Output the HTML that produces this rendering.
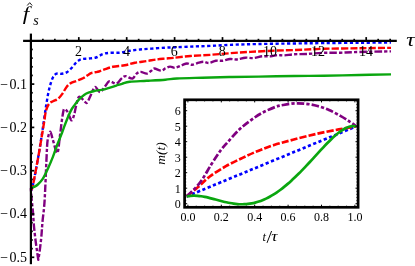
<!DOCTYPE html>
<html><head><meta charset="utf-8"><title>plot</title>
<style>html,body{margin:0;padding:0;background:#fff;}body{width:415px;height:266px;overflow:hidden;position:relative;font-family:"Liberation Serif",serif;}</style></head>
<body>
<svg width="415" height="266" viewBox="0 0 415 266" style="position:absolute;left:0;top:0;will-change:transform">
<rect width="415" height="266" fill="#fff"/>
<g fill="none" stroke-width="2.40" stroke-linejoin="round" >
<path d="M30.90 188.10 C31.15 187.98 31.17 192.65 32.40 187.40 C33.63 182.15 36.70 165.58 38.30 156.60 C39.90 147.62 40.98 140.07 42.00 133.50 C43.02 126.93 43.70 121.90 44.40 117.20 C45.10 112.50 45.57 109.25 46.20 105.30 C46.83 101.35 47.52 96.92 48.20 93.50 C48.88 90.08 49.48 87.53 50.30 84.80 C51.12 82.07 52.05 78.95 53.10 77.10 C54.15 75.25 55.20 74.25 56.60 73.70 C58.00 73.15 59.83 74.02 61.50 73.80 C63.17 73.58 64.90 73.38 66.60 72.40 C68.30 71.42 70.02 69.63 71.70 67.90 C73.38 66.17 75.02 63.47 76.70 62.00 C78.38 60.53 79.82 59.67 81.80 59.10 C83.78 58.53 86.23 58.87 88.60 58.60 C90.97 58.33 93.63 58.25 96.00 57.50 C98.37 56.75 100.55 54.88 102.80 54.10 C105.05 53.32 106.68 53.03 109.50 52.80 C112.32 52.57 116.32 53.03 119.70 52.70 C123.08 52.37 126.42 51.33 129.80 50.80 C133.18 50.27 136.33 49.87 140.00 49.50 C143.67 49.13 147.58 48.91 151.80 48.60 C156.02 48.29 161.12 47.90 165.30 47.67 C169.48 47.43 172.15 47.39 176.90 47.20 C181.65 47.00 188.17 46.71 193.80 46.50 C199.43 46.28 204.78 46.16 210.70 45.90 C216.62 45.63 221.28 45.20 229.30 44.88 C237.32 44.57 247.97 44.25 258.80 44.01 C269.63 43.77 283.47 43.60 294.30 43.45 C305.13 43.30 312.97 43.22 323.80 43.10 C334.63 42.99 348.10 42.84 359.30 42.75 C370.50 42.66 385.72 42.58 391.00 42.55" stroke="#0000ff" stroke-dasharray="3.2 2.5" stroke-dashoffset="0"/>
<path d="M30.90 188.30 C31.15 188.18 31.17 192.85 32.40 187.60 C33.63 182.35 36.67 165.78 38.30 156.80 C39.93 147.82 41.20 139.65 42.20 133.70 C43.20 127.75 43.67 124.95 44.30 121.10 C44.93 117.25 45.22 113.48 46.00 110.60 C46.78 107.72 47.83 105.35 49.00 103.80 C50.17 102.25 51.48 102.13 53.00 101.30 C54.52 100.47 56.53 100.07 58.10 98.80 C59.67 97.53 60.98 95.68 62.40 93.70 C63.82 91.72 65.20 88.67 66.60 86.90 C68.00 85.13 69.12 84.12 70.80 83.10 C72.48 82.08 74.58 81.65 76.70 80.80 C78.82 79.95 81.67 78.93 83.50 78.00 C85.33 77.07 86.45 76.02 87.70 75.20 C88.95 74.38 89.78 73.58 91.00 73.10 C92.22 72.62 93.67 72.57 95.00 72.30 C96.33 72.03 97.42 71.98 99.00 71.50 C100.58 71.02 102.18 70.18 104.50 69.40 C106.82 68.62 109.53 67.48 112.90 66.80 C116.27 66.12 121.03 65.97 124.70 65.30 C128.37 64.63 131.23 63.50 134.90 62.80 C138.57 62.10 143.03 61.67 146.70 61.10 C150.37 60.53 153.80 59.82 156.90 59.40 C160.00 58.98 162.53 58.83 165.30 58.57 C168.07 58.30 169.32 58.24 173.50 57.82 C177.68 57.39 184.20 56.52 190.40 56.02 C196.60 55.51 204.22 55.25 210.70 54.80 C217.18 54.34 222.68 53.77 229.30 53.28 C235.92 52.79 242.67 52.31 250.40 51.86 C258.13 51.41 268.38 50.88 275.70 50.58 C283.02 50.27 286.28 50.34 294.30 50.05 C302.32 49.75 312.97 49.10 323.80 48.80 C334.63 48.50 348.10 48.41 359.30 48.25 C370.50 48.09 385.72 47.92 391.00 47.85" stroke="#ff0000" stroke-dasharray="7.1 2.1" stroke-dashoffset="0"/>
<path d="M30.90 188.10 C30.97 189.35 31.10 193.05 31.30 195.60 C31.50 198.15 31.82 200.57 32.10 203.40 C32.38 206.23 32.68 208.73 33.00 212.60 C33.32 216.47 33.55 221.77 34.00 226.60 C34.45 231.43 35.18 237.43 35.70 241.60 C36.22 245.77 36.67 248.57 37.10 251.60 C37.53 254.63 38.10 258.43 38.30 259.80 C38.52 258.43 39.10 255.37 39.60 251.60 C40.10 247.83 40.82 242.20 41.30 237.20 C41.78 232.20 41.95 227.70 42.50 221.60 C43.05 215.50 43.92 211.43 44.60 200.60 C45.28 189.77 46.10 166.65 46.60 156.60 C47.10 146.55 47.00 144.43 47.60 140.30 C48.20 136.17 49.30 131.80 50.20 131.80 C51.10 131.80 51.82 136.77 53.00 140.30 C54.18 143.83 56.15 153.68 57.30 153.00 C58.45 152.32 59.17 141.45 59.90 136.20 C60.63 130.95 61.10 125.77 61.70 121.50 C62.30 117.23 63.00 112.65 63.50 110.60 C64.00 108.55 64.10 109.10 64.70 109.20 C65.30 109.30 66.30 109.97 67.10 111.20 C67.90 112.43 68.70 115.08 69.50 116.60 C70.30 118.12 71.10 120.70 71.90 120.30 C72.70 119.90 73.60 116.62 74.30 114.20 C75.00 111.78 75.33 108.68 76.10 105.80 C76.87 102.92 77.75 97.93 78.90 96.90 C80.05 95.87 81.70 98.60 83.00 99.60 C84.30 100.60 85.48 103.45 86.70 102.90 C87.92 102.35 88.98 98.92 90.30 96.30 C91.62 93.68 93.38 88.32 94.60 87.20 C95.82 86.08 96.63 88.80 97.60 89.60 C98.57 90.40 99.12 92.60 100.40 92.00 C101.68 91.40 103.78 87.80 105.30 86.00 C106.82 84.20 107.67 81.58 109.50 81.20 C111.33 80.82 114.32 84.13 116.30 83.70 C118.28 83.27 119.85 79.87 121.40 78.60 C122.95 77.33 123.77 76.10 125.60 76.10 C127.43 76.10 130.57 79.02 132.40 78.60 C134.23 78.18 135.20 74.72 136.60 73.60 C138.00 72.48 139.12 71.90 140.80 71.90 C142.48 71.90 145.00 73.75 146.70 73.60 C148.40 73.45 149.73 71.85 151.00 71.00 C152.27 70.15 152.62 68.55 154.30 68.50 C155.98 68.45 159.27 70.70 161.10 70.69 C162.93 70.69 163.80 69.14 165.30 68.47 C166.80 67.79 168.45 66.75 170.10 66.64 C171.75 66.53 173.22 68.05 175.20 67.81 C177.18 67.56 180.03 65.90 182.00 65.17 C183.97 64.44 185.32 63.50 187.00 63.44 C188.68 63.38 190.12 64.95 192.10 64.81 C194.08 64.66 196.92 63.08 198.90 62.57 C200.88 62.05 202.32 61.66 204.00 61.74 C205.68 61.81 207.03 63.17 209.00 63.01 C210.97 62.84 213.53 61.15 215.80 60.77 C218.07 60.38 220.23 61.02 222.60 60.72 C224.97 60.43 227.63 59.19 230.00 58.98 C232.37 58.77 234.25 59.65 236.80 59.44 C239.35 59.22 242.48 57.92 245.30 57.69 C248.12 57.45 250.88 58.27 253.70 58.04 C256.52 57.81 259.37 56.59 262.20 56.30 C265.03 56.00 268.17 56.49 270.70 56.28 C273.23 56.08 275.15 55.23 277.40 55.07 C279.65 54.92 281.38 55.50 284.20 55.36 C287.02 55.23 290.52 54.49 294.30 54.25 C298.08 54.01 301.98 54.17 306.90 53.93 C311.82 53.69 318.17 53.01 323.80 52.80 C329.43 52.60 334.78 52.82 340.70 52.68 C346.62 52.54 350.92 52.17 359.30 51.95 C367.68 51.73 385.72 51.45 391.00 51.35" stroke="#800080" stroke-dasharray="7.5 2.1 3.3 2.1" stroke-dashoffset="9.6"/>
<path d="M30.90 188.10 C31.42 187.90 32.85 187.50 34.00 186.90 C35.15 186.30 36.32 185.88 37.80 184.50 C39.28 183.12 41.20 181.28 42.90 178.60 C44.60 175.92 46.32 172.07 48.00 168.40 C49.68 164.73 51.60 160.17 53.00 156.60 C54.40 153.03 54.83 151.13 56.40 147.00 C57.97 142.87 60.85 135.85 62.40 131.80 C63.95 127.75 64.31 126.18 65.70 122.70 C67.09 119.22 69.25 113.87 70.75 110.90 C72.25 107.93 73.23 106.90 74.70 104.90 C76.17 102.90 77.93 100.60 79.55 98.90 C81.17 97.20 82.78 95.78 84.40 94.70 C86.03 93.62 87.67 93.02 89.30 92.40 C90.93 91.78 92.48 91.38 94.20 91.00 C95.92 90.62 97.88 90.38 99.60 90.10 C101.32 89.82 102.77 89.72 104.50 89.30 C106.23 88.88 108.03 88.22 110.00 87.60 C111.97 86.98 114.30 86.23 116.30 85.60 C118.30 84.97 119.75 84.45 122.00 83.80 C124.25 83.15 125.68 82.20 129.80 81.70 C133.92 81.20 140.78 81.13 146.70 80.80 C152.62 80.47 160.27 80.08 165.30 79.70 C170.33 79.32 170.73 78.83 176.90 78.50 C183.07 78.17 193.57 77.95 202.30 77.70 C211.03 77.45 219.88 77.18 229.30 77.00 C238.72 76.82 247.97 76.77 258.80 76.60 C269.63 76.43 283.47 76.15 294.30 76.00 C305.13 75.85 312.97 75.87 323.80 75.70 C334.63 75.53 348.10 75.22 359.30 75.00 C370.50 74.78 385.72 74.50 391.00 74.40" stroke="#0aa60f"/>
</g>
<g stroke="#000" stroke-width="2.20" fill="none">
<line x1="23.1" y1="40.80" x2="396.8" y2="40.80"/>
<line x1="30.90" y1="33.6" x2="30.90" y2="264.2"/>
</g>
<g stroke="#000" stroke-width="1.7" fill="none">
<line x1="42.88" y1="40.80" x2="42.88" y2="38.80"/>
<line x1="54.85" y1="40.80" x2="54.85" y2="38.80"/>
<line x1="66.82" y1="40.80" x2="66.82" y2="38.80"/>
<line x1="78.80" y1="40.80" x2="78.80" y2="37.10"/>
<line x1="90.78" y1="40.80" x2="90.78" y2="38.80"/>
<line x1="102.75" y1="40.80" x2="102.75" y2="38.80"/>
<line x1="114.72" y1="40.80" x2="114.72" y2="38.80"/>
<line x1="126.70" y1="40.80" x2="126.70" y2="37.10"/>
<line x1="138.67" y1="40.80" x2="138.67" y2="38.80"/>
<line x1="150.65" y1="40.80" x2="150.65" y2="38.80"/>
<line x1="162.62" y1="40.80" x2="162.62" y2="38.80"/>
<line x1="174.60" y1="40.80" x2="174.60" y2="37.10"/>
<line x1="186.57" y1="40.80" x2="186.57" y2="38.80"/>
<line x1="198.55" y1="40.80" x2="198.55" y2="38.80"/>
<line x1="210.53" y1="40.80" x2="210.53" y2="38.80"/>
<line x1="222.50" y1="40.80" x2="222.50" y2="37.10"/>
<line x1="234.47" y1="40.80" x2="234.47" y2="38.80"/>
<line x1="246.45" y1="40.80" x2="246.45" y2="38.80"/>
<line x1="258.43" y1="40.80" x2="258.43" y2="38.80"/>
<line x1="270.40" y1="40.80" x2="270.40" y2="37.10"/>
<line x1="282.38" y1="40.80" x2="282.38" y2="38.80"/>
<line x1="294.35" y1="40.80" x2="294.35" y2="38.80"/>
<line x1="306.32" y1="40.80" x2="306.32" y2="38.80"/>
<line x1="318.30" y1="40.80" x2="318.30" y2="37.10"/>
<line x1="330.27" y1="40.80" x2="330.27" y2="38.80"/>
<line x1="342.25" y1="40.80" x2="342.25" y2="38.80"/>
<line x1="354.22" y1="40.80" x2="354.22" y2="38.80"/>
<line x1="366.20" y1="40.80" x2="366.20" y2="37.10"/>
<line x1="378.17" y1="40.80" x2="378.17" y2="38.80"/>
<line x1="390.15" y1="40.80" x2="390.15" y2="38.80"/>
<line x1="30.90" y1="49.46" x2="32.80" y2="49.46"/>
<line x1="30.90" y1="58.12" x2="32.80" y2="58.12"/>
<line x1="30.90" y1="66.78" x2="32.80" y2="66.78"/>
<line x1="30.90" y1="75.44" x2="32.80" y2="75.44"/>
<line x1="30.90" y1="84.10" x2="34.30" y2="84.10"/>
<line x1="30.90" y1="92.76" x2="32.80" y2="92.76"/>
<line x1="30.90" y1="101.42" x2="32.80" y2="101.42"/>
<line x1="30.90" y1="110.08" x2="32.80" y2="110.08"/>
<line x1="30.90" y1="118.74" x2="32.80" y2="118.74"/>
<line x1="30.90" y1="127.40" x2="34.30" y2="127.40"/>
<line x1="30.90" y1="136.06" x2="32.80" y2="136.06"/>
<line x1="30.90" y1="144.72" x2="32.80" y2="144.72"/>
<line x1="30.90" y1="153.38" x2="32.80" y2="153.38"/>
<line x1="30.90" y1="162.04" x2="32.80" y2="162.04"/>
<line x1="30.90" y1="170.70" x2="34.30" y2="170.70"/>
<line x1="30.90" y1="179.36" x2="32.80" y2="179.36"/>
<line x1="30.90" y1="188.02" x2="32.80" y2="188.02"/>
<line x1="30.90" y1="196.68" x2="32.80" y2="196.68"/>
<line x1="30.90" y1="205.34" x2="32.80" y2="205.34"/>
<line x1="30.90" y1="214.00" x2="34.30" y2="214.00"/>
<line x1="30.90" y1="222.66" x2="32.80" y2="222.66"/>
<line x1="30.90" y1="231.32" x2="32.80" y2="231.32"/>
<line x1="30.90" y1="239.98" x2="32.80" y2="239.98"/>
<line x1="30.90" y1="248.64" x2="32.80" y2="248.64"/>
<line x1="30.90" y1="257.30" x2="34.30" y2="257.30"/>
</g>
<g font-family="Liberation Serif, serif" font-size="14px" fill="#000">
<text x="78.50" y="55.50" text-anchor="middle">2</text>
<text x="126.40" y="55.50" text-anchor="middle">4</text>
<text x="174.30" y="55.50" text-anchor="middle">6</text>
<text x="222.20" y="55.50" text-anchor="middle">8</text>
<text x="270.10" y="55.50" text-anchor="middle">10</text>
<text x="318.00" y="55.50" text-anchor="middle">12</text>
<text x="365.90" y="55.50" text-anchor="middle">14</text>
<text x="27.00" y="88.50" text-anchor="end">0.1</text>
<text x="0.25" y="88.50">−</text>
<text x="27.00" y="131.80" text-anchor="end">0.2</text>
<text x="0.25" y="131.80">−</text>
<text x="27.00" y="175.10" text-anchor="end">0.3</text>
<text x="0.25" y="175.10">−</text>
<text x="27.00" y="218.40" text-anchor="end">0.4</text>
<text x="0.25" y="218.40">−</text>
<text x="27.00" y="261.70" text-anchor="end">0.5</text>
<text x="0.25" y="261.70">−</text>
</g>
<text transform="translate(406.3,45.6) scale(1.28,1)" font-family="Liberation Serif, serif" font-style="italic" font-size="18px">τ</text>
<text transform="translate(22.7,19.5) scale(1.22,1)" font-family="Liberation Serif, serif" font-style="italic" font-size="19px">f</text>
<text x="33.3" y="24.5" font-family="Liberation Serif, serif" font-style="italic" font-size="14px">s</text>
<path d="M27.2 5.5 L29.7 2.7 L32.2 5.5" stroke="#000" stroke-width="0.9" fill="none"/>
<rect x="184.60" y="99.80" width="173.50" height="107.50" fill="#fff" stroke="none"/>
<g fill="none" stroke-width="2.70" stroke-linejoin="round" >
<path d="M186.70 196.40 C214.97 184.72 328.03 137.98 356.30 126.30" stroke="#0000ff" stroke-dasharray="3.2 2.5"/>
<path d="M186.70 196.40 C188.65 194.80 194.55 190.12 198.40 186.80 C202.25 183.48 205.22 179.93 209.80 176.50 C214.38 173.07 220.53 169.27 225.90 166.20 C231.27 163.13 236.65 160.65 242.00 158.10 C247.35 155.55 252.65 153.08 258.00 150.90 C263.35 148.72 268.27 146.87 274.10 145.00 C279.93 143.13 286.03 141.53 293.00 139.70 C299.97 137.87 308.27 135.72 315.90 134.00 C323.53 132.28 332.07 130.68 338.80 129.40 C345.53 128.12 353.38 126.82 356.30 126.30" stroke="#ff0000" stroke-dasharray="7.1 2.1"/>
<path d="M186.70 196.40 C188.92 194.10 195.88 187.95 200.00 182.60 C204.12 177.25 207.97 169.65 211.40 164.30 C214.83 158.95 217.92 154.15 220.60 150.50 C223.28 146.85 224.43 145.85 227.50 142.40 C230.57 138.95 235.18 133.43 239.00 129.80 C242.82 126.17 246.58 123.40 250.40 120.60 C254.22 117.80 257.68 115.30 261.90 113.00 C266.12 110.70 272.17 108.13 275.70 106.80 C279.23 105.47 279.95 105.57 283.10 105.00 C286.25 104.43 290.78 103.60 294.60 103.40 C298.42 103.20 302.18 103.37 306.00 103.80 C309.82 104.23 313.67 104.97 317.50 106.00 C321.33 107.03 325.18 108.35 329.00 110.00 C332.82 111.65 336.97 113.97 340.40 115.90 C343.83 117.83 346.95 119.87 349.60 121.60 C352.25 123.33 355.18 125.52 356.30 126.30" stroke="#800080" stroke-dasharray="7.5 2.1 3.3 2.1"/>
<path d="M186.70 196.40 C187.30 196.31 189.11 195.97 190.31 195.85 C191.51 195.73 192.71 195.68 193.92 195.68 C195.12 195.67 196.32 195.73 197.53 195.82 C198.73 195.92 199.93 196.06 201.13 196.24 C202.34 196.41 203.54 196.63 204.74 196.87 C205.95 197.11 207.15 197.38 208.35 197.67 C209.55 197.95 210.76 198.26 211.96 198.57 C213.16 198.88 214.37 199.21 215.57 199.53 C216.77 199.86 217.97 200.19 219.18 200.51 C220.38 200.82 221.58 201.14 222.79 201.44 C223.99 201.74 225.19 202.03 226.39 202.30 C227.60 202.56 228.80 202.81 230.00 203.03 C231.20 203.26 232.41 203.46 233.61 203.62 C234.81 203.79 236.02 203.93 237.22 204.03 C238.42 204.13 239.62 204.20 240.83 204.23 C242.03 204.26 243.23 204.25 244.44 204.20 C245.64 204.15 246.84 204.06 248.04 203.93 C249.25 203.80 250.45 203.62 251.65 203.40 C252.86 203.18 254.06 202.92 255.26 202.61 C256.46 202.31 257.67 201.96 258.87 201.56 C260.07 201.16 261.28 200.72 262.48 200.23 C263.68 199.75 264.88 199.21 266.09 198.64 C267.29 198.06 268.49 197.44 269.70 196.78 C270.90 196.12 272.10 195.42 273.30 194.67 C274.51 193.93 275.71 193.14 276.91 192.32 C278.12 191.49 279.32 190.63 280.52 189.72 C281.72 188.82 282.93 187.88 284.13 186.91 C285.33 185.94 286.54 184.93 287.74 183.89 C288.94 182.85 290.14 181.78 291.35 180.68 C292.55 179.58 293.75 178.45 294.96 177.30 C296.16 176.15 297.36 174.97 298.56 173.76 C299.77 172.56 300.97 171.34 302.17 170.10 C303.38 168.86 304.58 167.59 305.78 166.32 C306.98 165.05 308.19 163.75 309.39 162.46 C310.59 161.16 311.80 159.85 313.00 158.54 C314.20 157.23 315.40 155.91 316.61 154.60 C317.81 153.29 319.01 151.98 320.21 150.68 C321.42 149.38 322.62 148.08 323.82 146.81 C325.03 145.54 326.23 144.27 327.43 143.05 C328.63 141.82 329.84 140.61 331.04 139.45 C332.24 138.29 333.45 137.15 334.65 136.08 C335.85 135.01 337.05 133.98 338.26 133.03 C339.46 132.08 340.66 131.18 341.87 130.38 C343.07 129.58 344.27 128.85 345.47 128.24 C346.68 127.64 347.88 127.11 349.08 126.75 C350.29 126.38 351.49 126.12 352.69 126.04 C353.89 125.97 355.70 126.26 356.30 126.30" stroke="#0aa60f"/>
</g>
<rect x="184.60" y="99.80" width="173.50" height="107.50" fill="none" stroke="#000" stroke-width="2.7"/>
<g stroke="#000" stroke-width="1" fill="none">
<line x1="187.90" y1="207.30" x2="187.90" y2="204.70"/>
<line x1="187.90" y1="99.80" x2="187.90" y2="102.40"/>
<line x1="196.25" y1="207.30" x2="196.25" y2="205.70"/>
<line x1="196.25" y1="99.80" x2="196.25" y2="101.40"/>
<line x1="204.60" y1="207.30" x2="204.60" y2="205.70"/>
<line x1="204.60" y1="99.80" x2="204.60" y2="101.40"/>
<line x1="212.95" y1="207.30" x2="212.95" y2="205.70"/>
<line x1="212.95" y1="99.80" x2="212.95" y2="101.40"/>
<line x1="221.30" y1="207.30" x2="221.30" y2="204.70"/>
<line x1="221.30" y1="99.80" x2="221.30" y2="102.40"/>
<line x1="229.65" y1="207.30" x2="229.65" y2="205.70"/>
<line x1="229.65" y1="99.80" x2="229.65" y2="101.40"/>
<line x1="238.00" y1="207.30" x2="238.00" y2="205.70"/>
<line x1="238.00" y1="99.80" x2="238.00" y2="101.40"/>
<line x1="246.35" y1="207.30" x2="246.35" y2="205.70"/>
<line x1="246.35" y1="99.80" x2="246.35" y2="101.40"/>
<line x1="254.70" y1="207.30" x2="254.70" y2="204.70"/>
<line x1="254.70" y1="99.80" x2="254.70" y2="102.40"/>
<line x1="263.05" y1="207.30" x2="263.05" y2="205.70"/>
<line x1="263.05" y1="99.80" x2="263.05" y2="101.40"/>
<line x1="271.40" y1="207.30" x2="271.40" y2="205.70"/>
<line x1="271.40" y1="99.80" x2="271.40" y2="101.40"/>
<line x1="279.75" y1="207.30" x2="279.75" y2="205.70"/>
<line x1="279.75" y1="99.80" x2="279.75" y2="101.40"/>
<line x1="288.10" y1="207.30" x2="288.10" y2="204.70"/>
<line x1="288.10" y1="99.80" x2="288.10" y2="102.40"/>
<line x1="296.45" y1="207.30" x2="296.45" y2="205.70"/>
<line x1="296.45" y1="99.80" x2="296.45" y2="101.40"/>
<line x1="304.80" y1="207.30" x2="304.80" y2="205.70"/>
<line x1="304.80" y1="99.80" x2="304.80" y2="101.40"/>
<line x1="313.15" y1="207.30" x2="313.15" y2="205.70"/>
<line x1="313.15" y1="99.80" x2="313.15" y2="101.40"/>
<line x1="321.50" y1="207.30" x2="321.50" y2="204.70"/>
<line x1="321.50" y1="99.80" x2="321.50" y2="102.40"/>
<line x1="329.85" y1="207.30" x2="329.85" y2="205.70"/>
<line x1="329.85" y1="99.80" x2="329.85" y2="101.40"/>
<line x1="338.20" y1="207.30" x2="338.20" y2="205.70"/>
<line x1="338.20" y1="99.80" x2="338.20" y2="101.40"/>
<line x1="346.55" y1="207.30" x2="346.55" y2="205.70"/>
<line x1="346.55" y1="99.80" x2="346.55" y2="101.40"/>
<line x1="354.90" y1="207.30" x2="354.90" y2="204.70"/>
<line x1="354.90" y1="99.80" x2="354.90" y2="102.40"/>
<line x1="184.60" y1="203.70" x2="187.20" y2="203.70"/>
<line x1="358.10" y1="203.70" x2="355.50" y2="203.70"/>
<line x1="184.60" y1="200.60" x2="186.20" y2="200.60"/>
<line x1="358.10" y1="200.60" x2="356.50" y2="200.60"/>
<line x1="184.60" y1="197.50" x2="186.20" y2="197.50"/>
<line x1="358.10" y1="197.50" x2="356.50" y2="197.50"/>
<line x1="184.60" y1="194.40" x2="186.20" y2="194.40"/>
<line x1="358.10" y1="194.40" x2="356.50" y2="194.40"/>
<line x1="184.60" y1="191.30" x2="186.20" y2="191.30"/>
<line x1="358.10" y1="191.30" x2="356.50" y2="191.30"/>
<line x1="184.60" y1="188.20" x2="187.20" y2="188.20"/>
<line x1="358.10" y1="188.20" x2="355.50" y2="188.20"/>
<line x1="184.60" y1="185.10" x2="186.20" y2="185.10"/>
<line x1="358.10" y1="185.10" x2="356.50" y2="185.10"/>
<line x1="184.60" y1="182.00" x2="186.20" y2="182.00"/>
<line x1="358.10" y1="182.00" x2="356.50" y2="182.00"/>
<line x1="184.60" y1="178.90" x2="186.20" y2="178.90"/>
<line x1="358.10" y1="178.90" x2="356.50" y2="178.90"/>
<line x1="184.60" y1="175.80" x2="186.20" y2="175.80"/>
<line x1="358.10" y1="175.80" x2="356.50" y2="175.80"/>
<line x1="184.60" y1="172.70" x2="187.20" y2="172.70"/>
<line x1="358.10" y1="172.70" x2="355.50" y2="172.70"/>
<line x1="184.60" y1="169.60" x2="186.20" y2="169.60"/>
<line x1="358.10" y1="169.60" x2="356.50" y2="169.60"/>
<line x1="184.60" y1="166.50" x2="186.20" y2="166.50"/>
<line x1="358.10" y1="166.50" x2="356.50" y2="166.50"/>
<line x1="184.60" y1="163.40" x2="186.20" y2="163.40"/>
<line x1="358.10" y1="163.40" x2="356.50" y2="163.40"/>
<line x1="184.60" y1="160.30" x2="186.20" y2="160.30"/>
<line x1="358.10" y1="160.30" x2="356.50" y2="160.30"/>
<line x1="184.60" y1="157.20" x2="187.20" y2="157.20"/>
<line x1="358.10" y1="157.20" x2="355.50" y2="157.20"/>
<line x1="184.60" y1="154.10" x2="186.20" y2="154.10"/>
<line x1="358.10" y1="154.10" x2="356.50" y2="154.10"/>
<line x1="184.60" y1="151.00" x2="186.20" y2="151.00"/>
<line x1="358.10" y1="151.00" x2="356.50" y2="151.00"/>
<line x1="184.60" y1="147.90" x2="186.20" y2="147.90"/>
<line x1="358.10" y1="147.90" x2="356.50" y2="147.90"/>
<line x1="184.60" y1="144.80" x2="186.20" y2="144.80"/>
<line x1="358.10" y1="144.80" x2="356.50" y2="144.80"/>
<line x1="184.60" y1="141.70" x2="187.20" y2="141.70"/>
<line x1="358.10" y1="141.70" x2="355.50" y2="141.70"/>
<line x1="184.60" y1="138.60" x2="186.20" y2="138.60"/>
<line x1="358.10" y1="138.60" x2="356.50" y2="138.60"/>
<line x1="184.60" y1="135.50" x2="186.20" y2="135.50"/>
<line x1="358.10" y1="135.50" x2="356.50" y2="135.50"/>
<line x1="184.60" y1="132.40" x2="186.20" y2="132.40"/>
<line x1="358.10" y1="132.40" x2="356.50" y2="132.40"/>
<line x1="184.60" y1="129.30" x2="186.20" y2="129.30"/>
<line x1="358.10" y1="129.30" x2="356.50" y2="129.30"/>
<line x1="184.60" y1="126.20" x2="187.20" y2="126.20"/>
<line x1="358.10" y1="126.20" x2="355.50" y2="126.20"/>
<line x1="184.60" y1="123.10" x2="186.20" y2="123.10"/>
<line x1="358.10" y1="123.10" x2="356.50" y2="123.10"/>
<line x1="184.60" y1="120.00" x2="186.20" y2="120.00"/>
<line x1="358.10" y1="120.00" x2="356.50" y2="120.00"/>
<line x1="184.60" y1="116.90" x2="186.20" y2="116.90"/>
<line x1="358.10" y1="116.90" x2="356.50" y2="116.90"/>
<line x1="184.60" y1="113.80" x2="186.20" y2="113.80"/>
<line x1="358.10" y1="113.80" x2="356.50" y2="113.80"/>
<line x1="184.60" y1="110.70" x2="187.20" y2="110.70"/>
<line x1="358.10" y1="110.70" x2="355.50" y2="110.70"/>
<line x1="184.60" y1="107.60" x2="186.20" y2="107.60"/>
<line x1="358.10" y1="107.60" x2="356.50" y2="107.60"/>
<line x1="184.60" y1="104.50" x2="186.20" y2="104.50"/>
<line x1="358.10" y1="104.50" x2="356.50" y2="104.50"/>
<line x1="184.60" y1="101.40" x2="186.20" y2="101.40"/>
<line x1="358.10" y1="101.40" x2="356.50" y2="101.40"/>
</g>
<g font-family="Liberation Serif, serif" font-size="12px" fill="#000">
<text x="187.90" y="221.30" text-anchor="middle">0.0</text>
<text x="221.30" y="221.30" text-anchor="middle">0.2</text>
<text x="254.70" y="221.30" text-anchor="middle">0.4</text>
<text x="288.10" y="221.30" text-anchor="middle">0.6</text>
<text x="321.50" y="221.30" text-anchor="middle">0.8</text>
<text x="354.90" y="221.30" text-anchor="middle">1.0</text>
<text x="180.80" y="208.10" text-anchor="end">0</text>
<text x="180.80" y="192.60" text-anchor="end">1</text>
<text x="180.80" y="177.10" text-anchor="end">2</text>
<text x="180.80" y="161.60" text-anchor="end">3</text>
<text x="180.80" y="146.10" text-anchor="end">4</text>
<text x="180.80" y="130.60" text-anchor="end">5</text>
<text x="180.80" y="115.10" text-anchor="end">6</text>
</g>
<text x="262.6" y="241.4" font-family="Liberation Serif, serif" font-style="italic" font-size="12.5px">t</text>
<line x1="267.0" y1="242.9" x2="271.6" y2="231.0" stroke="#000" stroke-width="0.95"/>
<text transform="translate(271.2,241.4) scale(1.25,1)" font-family="Liberation Serif, serif" font-style="italic" font-size="14px">τ</text>
<text transform="translate(165.2,153.4) rotate(-90)" text-anchor="middle" font-family="Liberation Serif, serif" font-style="italic" font-size="13.5px">m(t)</text>
</svg>
</body></html>
